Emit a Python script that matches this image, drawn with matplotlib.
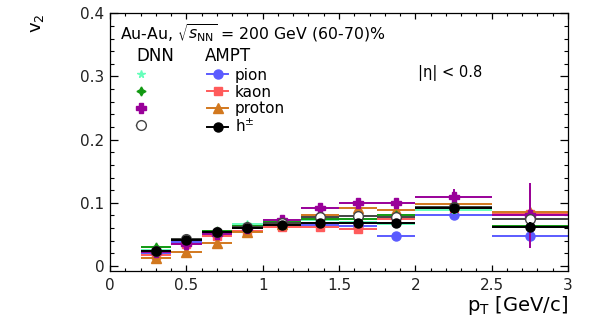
import matplotlib
matplotlib.use("Agg")
import matplotlib.pyplot as plt
from matplotlib.lines import Line2D
from matplotlib.ticker import MultipleLocator, FuncFormatter

plt.rcParams['font.family'] = ['DejaVu Sans']
plt.rcParams['mathtext.fontset'] = 'dejavusans'

# pT bins (GeV/c)
pt = [0.3, 0.5, 0.7, 0.9, 1.125, 1.375, 1.625, 1.875, 2.25, 2.75]
pt_half = [0.1, 0.1, 0.1, 0.1, 0.125, 0.125, 0.125, 0.125, 0.25, 0.25]

# AMPT
ampt_pion = [0.020, 0.038, 0.052, 0.060, 0.066, 0.065, 0.063, 0.048, 0.080, 0.048]
ampt_kaon = [0.017, 0.035, 0.048, 0.056, 0.061, 0.061, 0.059, 0.074, 0.092, 0.082]
ampt_proton = [0.013, 0.022, 0.036, 0.054, 0.066, 0.080, 0.091, 0.088, 0.098, 0.085]
ampt_h = [0.023, 0.041, 0.053, 0.060, 0.065, 0.068, 0.068, 0.068, 0.091, 0.062]
ampt_pion_err = [0.002, 0.002, 0.002, 0.002, 0.003, 0.003, 0.003, 0.004, 0.005, 0.005]
ampt_kaon_err = [0.003, 0.003, 0.003, 0.003, 0.004, 0.004, 0.005, 0.005, 0.008, 0.010]
ampt_proton_err = [0.004, 0.004, 0.004, 0.004, 0.004, 0.005, 0.005, 0.006, 0.010, 0.040]
ampt_h_err = [0.002, 0.002, 0.002, 0.002, 0.002, 0.002, 0.003, 0.003, 0.004, 0.008]

# DNN
dnn_pion = [0.025, 0.043, 0.056, 0.066, 0.070, 0.072, 0.070, 0.066, 0.088, 0.062]
dnn_kaon = [0.030, 0.042, 0.055, 0.064, 0.070, 0.075, 0.074, 0.080, 0.094, 0.063]
dnn_proton = [0.022, 0.034, 0.050, 0.060, 0.073, 0.091, 0.100, 0.100, 0.109, 0.080]
dnn_h = [0.024, 0.042, 0.054, 0.062, 0.068, 0.078, 0.079, 0.078, 0.093, 0.074]
dnn_pion_err = [0.002, 0.002, 0.002, 0.002, 0.002, 0.003, 0.003, 0.004, 0.005, 0.006]
dnn_kaon_err = [0.002, 0.002, 0.002, 0.002, 0.003, 0.003, 0.004, 0.005, 0.012, 0.010]
dnn_proton_err = [0.003, 0.003, 0.003, 0.003, 0.004, 0.005, 0.006, 0.008, 0.013, 0.052]
dnn_h_err = [0.002, 0.002, 0.002, 0.002, 0.002, 0.002, 0.003, 0.003, 0.004, 0.006]

c_pion = '#5b5bff'
c_kaon = '#ff5b5b'
c_proton = '#d2781e'
c_h = 'black'
c_dpion = '#66ffbb'
c_dkaon = '#119911'
c_dproton = '#990099'
c_dh = '#444444'

fig = plt.figure(figsize=(5.9, 3.21), dpi=100)
ax = fig.add_axes([110 / 590, 1 - 271 / 321, 458 / 590, 257.7 / 321])


def draw(y, yerr, color, marker, ms, mfc=None, z=2):
    ax.errorbar(pt, y, xerr=pt_half, yerr=yerr, fmt='none', ecolor=color,
                elinewidth=1.4, capsize=0, zorder=z)
    ax.plot(pt, y, ls='none', marker=marker, ms=ms, mec=color,
            mfc=mfc if mfc else color, zorder=z + 0.05)


draw(ampt_pion, ampt_pion_err, c_pion, 'o', 6.5, z=2)
draw(ampt_kaon, ampt_kaon_err, c_kaon, 's', 6, z=2.1)
draw(ampt_proton, ampt_proton_err, c_proton, '^', 6.5, z=2.2)
draw(dnn_pion, dnn_pion_err, c_dpion, '*', 5.5, z=2.3)
draw(dnn_kaon, dnn_kaon_err, c_dkaon, (4, 1, 0), 6.5, z=2.4)
draw(dnn_proton, dnn_proton_err, c_dproton, 'P', 7, z=2.5)
draw(dnn_h, dnn_h_err, c_dh, 'o', 7, mfc='white', z=2.6)
draw(ampt_h, ampt_h_err, c_h, 'o', 6.5, z=2.7)

ax.set_xlim(0, 3)
ax.set_ylim(-0.008, 0.4)
ax.xaxis.set_major_locator(MultipleLocator(0.5))
ax.xaxis.set_minor_locator(MultipleLocator(0.1))
ax.yaxis.set_major_locator(MultipleLocator(0.1))
ax.yaxis.set_minor_locator(MultipleLocator(0.02))
ax.xaxis.set_major_formatter(FuncFormatter(lambda v, p: f"{v:g}"))
ax.yaxis.set_major_formatter(FuncFormatter(lambda v, p: f"{v:g}"))
ax.tick_params(which='both', direction='in', top=True, right=True, labelsize=11,
               colors='black', labelcolor='#222222')
ax.tick_params(axis='y', which='major', length=6, width=0.9, pad=4)
ax.tick_params(axis='y', which='minor', length=3, width=0.8)
ax.tick_params(axis='x', which='major', length=4, width=0.9, pad=5)
ax.tick_params(axis='x', which='minor', length=2, width=0.8)
for s in ax.spines.values():
    s.set_linewidth(0.9)

ax.set_xlabel('p$_{\\mathrm{T}}$ [GeV/c]', loc='right', fontsize=14, labelpad=1)
ax.set_ylabel('v$_{2}$', loc='top', fontsize=13)
ax.yaxis.set_label_coords(-0.14, 1.0)

ax.text(0.022, 0.924, r'Au-Au, $\sqrt{s_{\mathrm{NN}}}$ = 200 GeV (60-70)%',
        transform=ax.transAxes, fontsize=11.3, va='center')
ax.text(0.673, 0.77, '|η| < 0.8', transform=ax.transAxes, fontsize=10.5, va='center')
ax.text(0.057, 0.834, 'DNN', transform=ax.transAxes, fontsize=12, va='center')
ax.text(0.207, 0.834, 'AMPT', transform=ax.transAxes, fontsize=12, va='center')

dnn_handles = [
    Line2D([], [], ls='none', marker='*', color=c_dpion, ms=5.5),
    Line2D([], [], ls='none', marker=(4, 1, 0), color=c_dkaon, ms=6.5),
    Line2D([], [], ls='none', marker='P', color=c_dproton, ms=7),
    Line2D([], [], ls='-', lw=1.0, marker='o', color=c_dh, mfc='white', ms=7),
]
ampt_handles = [
    Line2D([], [], lw=1.4, marker='o', color=c_pion, ms=6.5),
    Line2D([], [], lw=1.4, marker='s', color=c_kaon, ms=6),
    Line2D([], [], lw=1.4, marker='^', color=c_proton, ms=6.5),
    Line2D([], [], lw=1.4, marker='o', color=c_h, ms=6.5),
]
leg1 = ax.legend(dnn_handles, ['', '', '', ''], loc='upper left',
                 bbox_to_anchor=(0.057, 0.789), frameon=False, handlelength=0.6,
                 handletextpad=0, labelspacing=0.12, fontsize=11, borderpad=0,
                 borderaxespad=0)
ax.add_artist(leg1)
ax.legend(ampt_handles, ['pion', 'kaon', 'proton', 'h$^{\\pm}$'], loc='upper left',
          bbox_to_anchor=(0.212, 0.789), frameon=False, handlelength=1.37,
          handletextpad=0.45, labelspacing=0.12, fontsize=11, borderpad=0,
          borderaxespad=0)

fig.savefig('out.png', dpi=100)
